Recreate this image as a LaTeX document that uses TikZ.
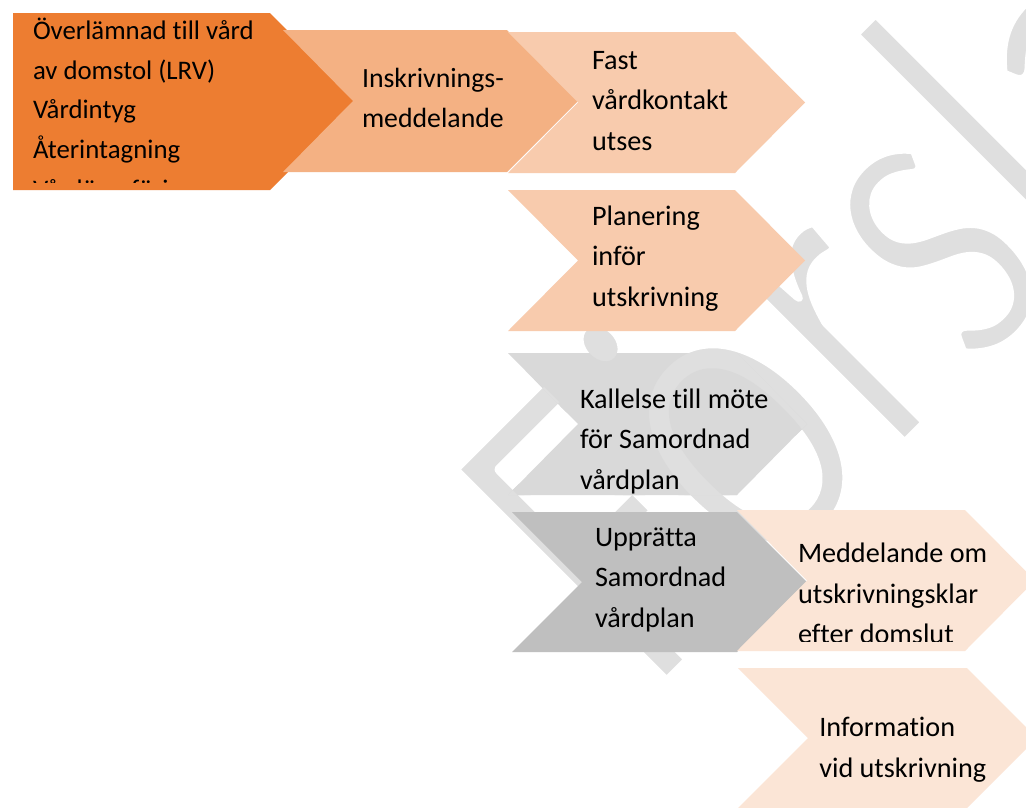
\documentclass[tikz,border=0pt]{standalone}
\usepackage{fontspec}
\setmainfont{Carlito}[Ligatures={NoCommon}]
\usepackage{graphicx}
\definecolor{corange}{HTML}{ED7D31}
\definecolor{corlight}{HTML}{F4B183}
\definecolor{cpeach}{HTML}{F8CBAD}
\definecolor{cpale}{HTML}{FBE5D6}
\definecolor{cgrayl}{HTML}{D9D9D9}
\definecolor{cgrayd}{HTML}{BFBFBF}
\definecolor{cwm}{HTML}{DFDFDF}
\makeatletter
% thin the watermark letters by stroking their outlines in the colour lying behind them
\newcommand\thinwith[1]{\pgfsys@invoke{q 2 Tr #1 RG 12 w 1 j}}
\newcommand\thinend{\pgfsys@invoke{Q}}
\makeatother
\tikzset{
  lbl/.style={anchor=base west, inner sep=0pt, outer sep=0pt, font=\fontsize{28.2}{40.5}\selectfont},
  wmark/.style={anchor=base west, inner sep=0pt, text=cwm, rotate=45},
}
\newcommand\lns[1]{\begin{tabular}[t]{@{}l@{}}#1\end{tabular}}
\newcommand\wmtext[1]{\scalebox{0.736}[1]{\fontsize{471.6}{480}\selectfont\thinwith{#1}Förslag\thinend}}
\begin{document}
\begin{tikzpicture}[x=1pt,y=-1pt]
\useasboundingbox (0,0) rectangle (1026,807);
\clip (0,0) rectangle (1026,807);
\fill[white] (0,0) rectangle (1026,807);
% watermark on the white page
\node[wmark] (wm) at (651,699) {\wmtext{1 1 1}};
% shape lying behind the watermark, with the watermark seen on it
\fill[cgrayl] (508,353) -- (737,353) -- (807,424) -- (737,495) -- (508,495) -- (578,424) -- cycle;
\begin{scope}
\clip (508,353) -- (737,353) -- (807,424) -- (737,495) -- (508,495) -- (578,424) -- cycle;
\node[wmark] (wmb) at (651,699) {\wmtext{0.851 0.851 0.851}};
\end{scope}
% shapes in front of the watermark
\fill[corange] (13,13) -- (270,13) -- (358.5,101.5) -- (270,190) -- (13,190) -- cycle;
\fill[corlight] (283,30) -- (507,30) -- (578,101) -- (507,172) -- (283,172) -- (353,101) -- cycle;
\fill[cpeach] (508,32) -- (735,32) -- (805,102.5) -- (735,173) -- (508,173) -- (578,102.5) -- cycle;
\fill[cpeach] (508,190) -- (735,190) -- (805,260.5) -- (735,331) -- (508,331) -- (578,260.5) -- cycle;
\fill[cgrayd] (512,512) -- (737,512) -- (807,582) -- (737,652) -- (512,652) -- (582,582) -- cycle;
\fill[cpale] (737,510) -- (965,510) -- (1035,580.5) -- (965,651) -- (737,651) -- (807,580.5) -- cycle;
\fill[cpale] (738,668) -- (967,668) -- (1037,738) -- (967,808) -- (738,808) -- (808,738) -- cycle;
% texts
\begin{scope}
\clip (13,13) rectangle (300,182);
\node[lbl] (t1) at (33,39.5) {\fontsize{26.8}{39.7}\selectfont\lns{Överlämnad till vård\\av domstol (LRV)\\Vårdintyg\\Återintagning\\Vårdöverföring}};
\end{scope}
\node[lbl] (t2) at (362,87.7) {\fontsize{27.8}{40}\selectfont\lns{Inskrivnings-\\meddelande}};
\node[lbl] (t3) at (592,69) {\lns{Fast\\vårdkontakt\\utses}};
\node[lbl] (t4) at (592,225) {\lns{Planering\\inför\\utskrivning}};
\node[lbl] (t5) at (580,408.3) {\lns{Kallelse till möte\\för Samordnad\\vårdplan}};
\node[lbl] (t6) at (595,546) {\lns{Upprätta\\Samordnad\\vårdplan}};
\begin{scope}
\clip (737,510) rectangle (1026,641.7);
\node[lbl] (t7) at (798,562.7) {\lns{Meddelande om\\utskrivningsklar\\efter domslut}};
\end{scope}
\node[lbl] (t8) at (819.3,736.7) {\lns{Information\\vid utskrivning}};
\end{tikzpicture}
\end{document}
